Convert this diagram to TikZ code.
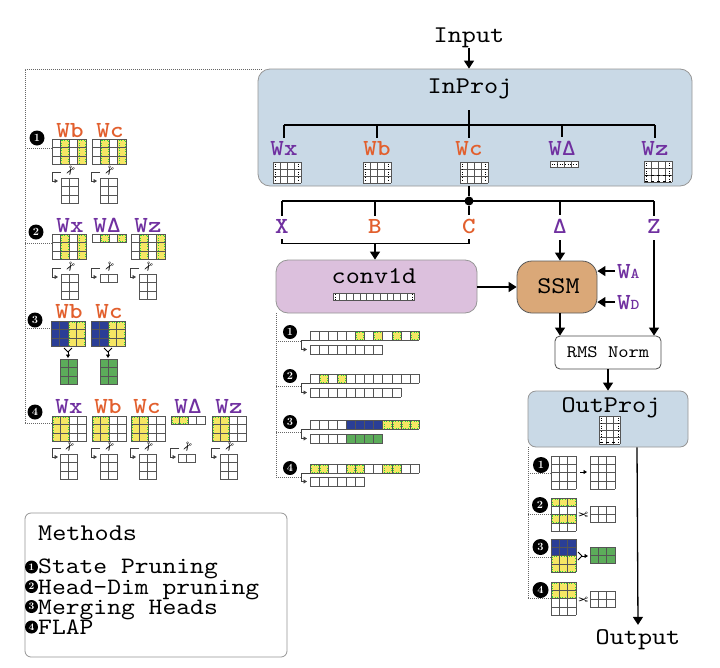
\documentclass[tikz,border=0pt]{standalone}
\usepackage{fontspec}
\newfontfamily\djv{DejaVu Sans}
\newfontfamily\cour[FakeStretch=1.12, BoldFont=lmmonolt10-bold.otf]{lmmono10-regular.otf}
\usetikzlibrary{arrows.meta}
\definecolor{purp}{RGB}{112,48,160}
\definecolor{oran}{RGB}{226,95,45}
\definecolor{ylw}{RGB}{246,230,100}
\definecolor{blu}{RGB}{42,62,150}
\definecolor{grn}{RGB}{92,172,90}
\definecolor{dotgreen}{RGB}{40,220,60}
\definecolor{projfill}{RGB}{201,217,230}
\definecolor{convfill}{RGB}{220,192,221}
\definecolor{ssmfill}{RGB}{218,168,120}
\definecolor{boxline}{RGB}{150,150,150}
\definecolor{gridc}{RGB}{85,85,85}
\newcommand{\mlfont}{\cour\fontsize{23.5}{20.2}\selectfont\lineskiplimit -30pt\relax}
\tikzset{
 gl/.style={draw=gridc, line width=0.7pt},
 gdot/.style={draw=dotgreen, line width=0.5pt, dash pattern=on 0.7pt off 1.8pt},
 arr/.style={line width=1.3pt, -{Triangle[length=8pt,width=10pt]}},
 ln/.style={line width=1.3pt},
 elbow/.style={draw=gray!50!black, line width=0.7pt, -{Triangle[length=3.5pt,width=4pt]}},
 mline/.style={draw=black, line width=0.8pt},
 dotl/.style={line width=0.8pt, draw=gray!80!black, dash pattern=on 0.8pt off 1.2pt},
 lbl/.style={font=\cour\bfseries\fontsize{23}{23}\selectfont, inner sep=0},
 ttl/.style={font=\cour\fontsize{24}{24}\selectfont, inner sep=0},
 bul/.style={circle, fill=black, text=white, inner sep=0, minimum size=15pt, font=\bfseries\fontsize{11}{11}\selectfont},
 box/.style={draw=boxline, line width=0.8pt, rounded corners=12pt},
 sci/.style={font=\djv\fontsize{12}{12}\selectfont, inner sep=0},
 mk/.style={dotted, line width=0.7pt},
}
\def\mcw{8.6}\def\mch{8.6}
\newcommand{\grd}[4]{%
  \foreach \ii in {0,...,#3}{\draw[gl] ({#1+\ii*\mcw},{#2}) -- ({#1+\ii*\mcw},{#2+(#4)*\mch});}%
  \foreach \jj in {0,...,#4}{\draw[gl] ({#1},{#2+\jj*\mch}) -- ({#1+(#3)*\mcw},{#2+\jj*\mch});}%
}
\newcommand{\blk}[7]{\fill[#7] ({#1+(#3)*\mcw},{#2+(#4)*\mch}) rectangle ({#1+(#5)*\mcw},{#2+(#6)*\mch});}
\newcommand{\yb}[6]{\blk{#1}{#2}{#3}{#4}{#5}{#6}{ylw}%
  \draw[gdot] ({#1+(#3)*\mcw+1},{#2+(#4)*\mch+1}) rectangle ({#1+(#5)*\mcw-1},{#2+(#6)*\mch-1});}
\newcommand{\elb}[3]{\draw[elbow] ({#1+9},{#2}) -- ({#1},{#2}) -- ({#1},{#3}) -- ({#1+6},{#3});}
\newcommand{\mgd}[2]{\draw[mline] ({#1-4},{#2-4}) -- (#1,#2) -- ({#1+4},{#2-4});
  \draw[mline,-{Triangle[length=3.5pt,width=4pt]}] (#1,#2) -- (#1,{#2+6});}
\newcommand{\mgr}[2]{\draw[mline] ({#1-4},{#2-4}) -- (#1,#2) -- ({#1-4},{#2+4});
  \draw[mline,-{Triangle[length=3.5pt,width=4pt]}] (#1,#2) -- ({#1+6},#2);}
\newcommand{\dmk}[3]{\draw[mk] ({#1+2.5},{#2+1.5}) -- ({#1+2.5},{#2+#3-1.5});
  \draw[mk] ({#1+25.5},{#2+1.5}) -- ({#1+25.5},{#2+#3-1.5});}
\begin{document}
\begin{tikzpicture}[x=1pt,y=-1pt]
\useasboundingbox (0,0) rectangle (720,667);
\fill[white] (0,0) rectangle (720,667);

% ---------- left dotted frame ----------
\draw[dotl] (25,423) -- (25,69) -- (262,69);
\draw[dotl] (25,148) -- (52,148);
\draw[dotl] (25,243) -- (52,243);
\draw[dotl] (25,328) -- (51,328);
\draw[dotl] (25,423) -- (52,423);

% ---------- InProj ----------
\node[ttl, anchor=base] (input) at (469,42) {Input};
\node[box, fill=projfill, minimum width=434pt, minimum height=117pt] (inproj) at (475,127.5) {};
\node[ttl, anchor=base] (inprojt) at (470,93) {InProj};
\draw[arr] (input.south) -- (input.south |- inproj.north);

\node[lbl, text=purp, anchor=base] (wx) at (284,155) {Wx};
\node[lbl, text=oran, anchor=base] (wb) at (377,155) {Wb};
\node[lbl, text=oran, anchor=base] (wc) at (469,155) {Wc};
\node[lbl, text=purp, anchor=base] (wd) at (562,155) {WΔ};
\node[lbl, text=purp, anchor=base] (wz) at (655,155) {Wz};
\coordinate (tA) at (469,110);
\coordinate (tB) at (469,125);
\draw[ln] (tA) -- (tB);
\draw[ln] (wx.north |- tB) -- (wz.north |- tB);
\foreach \n in {wx,wb,wc,wd,wz} \draw[ln] (\n.north |- tB) -- ([yshift=3pt]\n.north);

\def\mcw{7}\def\mch{7}
\fill[white] (273,162) rectangle ++(28,21); \grd{273}{162}{4}{3} \dmk{273}{162}{21}
\fill[white] (363,162) rectangle ++(28,21); \grd{363}{162}{4}{3} \dmk{363}{162}{21}
\fill[white] (460,162) rectangle ++(28,21); \grd{460}{162}{4}{3} \dmk{460}{162}{21}
\def\mch{6.5}
\fill[white] (550,161) rectangle ++(28,6.5); \grd{550}{161}{4}{1}
\draw[mk] (551.5,164.2) -- (576.5,164.2);
\def\mch{7}
\fill[white] (644,161) rectangle ++(28,21); \grd{644}{161}{4}{3} \dmk{644}{161}{21}
\draw[dashed, line width=0.7pt] (645,175) -- (671,175);
\draw[dashed, line width=0.7pt] (645,181) -- (671,181);

% ---------- splitting ----------
\node[circle, fill=black, inner sep=0, minimum size=9pt] (dot) at (469,201) {};
\draw[ln] (inproj.south -| dot) -- (dot);
\node[lbl, text=purp, anchor=base] (xl) at (282,233) {X};
\node[lbl, text=oran, anchor=base] (bl) at (375,233) {B};
\node[lbl, text=oran, anchor=base] (cl) at (469,233) {C};
\node[lbl, text=purp, anchor=base] (dl) at (560,233) {Δ};
\node[lbl, text=purp, anchor=base] (zl) at (654,233) {Z};
\draw[ln] (xl.north |- dot) -- (zl.north |- dot);
\foreach \n in {xl,bl,dl,zl} \draw[ln] (\n.north |- dot) -- ([yshift=3pt]\n.north);
\draw[ln] (dot) -- ([yshift=3pt]cl.north);
\draw[ln] ([yshift=-6pt]xl.south) -- ([yshift=-10pt]xl.south) -| ([yshift=-6pt]cl.south);

% ---------- conv1d ----------
\node[box, fill=convfill, minimum width=201pt, minimum height=53pt] (conv) at (376.5,286.5) {};
\node[ttl, anchor=base] (convt) at (374,283) {conv1d};
\draw[arr] ([yshift=-10pt]bl.south) -- (bl.south |- conv.north);
\def\mcw{6.75}\def\mch{7.5}
\fill[white] (333,293) rectangle ++(81,7.5); \grd{333}{293}{12}{1}
\draw[mk] (335,294) -- (335,299.5); \draw[mk] (412,294) -- (412,299.5);

% ---------- SSM ----------
\node[box, fill=ssmfill, draw=gray!70!black, rounded corners=15pt, minimum width=80pt, minimum height=52pt] (ssm) at (557,287) {};
\node[ttl, anchor=base] (ssmt) at (558.5,293) {SSM};
\draw[arr] ([yshift=-7pt]dl.south) -- (dl.south |- ssm.north);
\draw[arr] (conv.east |- ssm) -- (ssm.west);
\node[lbl, text=purp, anchor=base west] (wa) at (617,278) {W{\fontsize{15}{15}\selectfont A}};
\node[lbl, text=purp, anchor=base west] (wdd) at (617,309) {W{\fontsize{15}{15}\selectfont D}};
\draw[arr] ([xshift=-2pt]wa.west) -- (wa.west -| ssm.east);
\draw[arr] ([xshift=-2pt]wdd.west) -- (wdd.west -| ssm.east);

% ---------- RMS Norm ----------
\node[draw=black!70, line width=0.8pt, rounded corners=5pt, minimum width=106pt, minimum height=33pt, inner sep=0, font=\cour\fontsize{17.5}{17.5}\selectfont] (rms) at (608,352.5) {RMS Norm};
\draw[arr] ([xshift=3pt]ssm.south) -- ([xshift=3pt]ssm.south |- rms.north);
\draw[arr] ([yshift=-7pt]zl.south) -- (zl.south |- rms.north);

% ---------- OutProj ----------
\node[box, fill=projfill, rounded corners=8pt, minimum width=160pt, minimum height=56pt] (outproj) at (608,419) {};
\node[ttl, anchor=base] (outprojt) at (611,412) {OutProj};
\draw[arr] (rms.south) -- (rms.south |- outproj.north);
\def\mcw{7}\def\mch{7}
\fill[white] (599,416) rectangle ++(21,28); \grd{599}{416}{3}{4}
\draw[mk] (601,417.5) -- (601,442.5); \draw[mk] (618,417.5) -- (618,442.5);
\draw[dashed, line width=0.6pt] (600,442) -- (619,442);
\node[ttl, anchor=base] (output) at (638,644) {Output};
\draw[arr] ([xshift=29pt]outproj.south) -- ([yshift=4pt]output.north);

% ---------- left column ----------
\def\mcw{8.6}\def\mch{8.6}
% item 1
\node[bul] (lb1) at (37,138) {1};
\node[lbl, text=oran, anchor=base] (l1b) at (70,137) {Wb};
\node[lbl, text=oran, anchor=base] (l1c) at (110,137) {Wc};
\yb{52}{139}{1}{0}{2}{3} \yb{52}{139}{3}{0}{4}{3} \grd{52}{139}{4}{3}
\yb{92}{139}{1}{0}{2}{3} \yb{92}{139}{3}{0}{4}{3} \grd{92}{139}{4}{3}
\grd{61}{178}{2}{3} \grd{100}{178}{2}{3}
\elb{52}{172}{181} \elb{91}{172}{181}
\node[sci, rotate=-120] (s1a) at (69.6,171) {✂};
\node[sci, rotate=-120] (s1b) at (108.6,171) {✂};
% item 2
\node[bul] (lb2) at (36,232) {2};
\node[lbl, text=purp, anchor=base] (l2x) at (70,232) {Wx};
\node[lbl, text=purp, anchor=base] (l2d) at (107,232) {WΔ};
\node[lbl, text=purp, anchor=base] (l2z) at (148,232) {Wz};
\yb{52}{234}{1}{0}{2}{3} \yb{52}{234}{3}{0}{4}{3} \grd{52}{234}{4}{3}
\yb{92}{234}{1}{0}{2}{1} \yb{92}{234}{3}{0}{4}{1} \grd{92}{234}{4}{1}
\yb{131}{234}{1}{0}{2}{3} \yb{131}{234}{3}{0}{4}{3} \grd{131}{234}{4}{3}
\grd{61}{274}{2}{3} \grd{100}{274}{2}{1} \grd{139}{274}{2}{3}
\elb{52}{268}{277} \elb{91}{268}{277} \elb{130}{268}{277}
\node[sci, rotate=-120] (s2a) at (69.6,267) {✂};
\node[sci, rotate=-120] (s2b) at (108.6,267) {✂};
\node[sci, rotate=-120] (s2c) at (147.6,267) {✂};
% item 3
\node[bul] (lb3) at (35,320) {3};
\node[lbl, text=oran, anchor=base] (l3b) at (69,318) {Wb};
\node[lbl, text=oran, anchor=base] (l3c) at (109,318) {Wc};
\blk{51}{321}{0}{0}{2}{3}{blu} \yb{51}{321}{2}{0}{4}{3} \grd{51}{321}{4}{3}
\blk{91}{321}{0}{0}{2}{3}{blu} \yb{91}{321}{2}{0}{4}{3} \grd{91}{321}{4}{3}
\mgd{68}{352} \mgd{108}{352}
\blk{60}{359}{0}{0}{2}{3}{grn} \grd{60}{359}{2}{3}
\blk{100}{359}{0}{0}{2}{3}{grn} \grd{100}{359}{2}{3}
% item 4
\node[bul] (lb4) at (35,412) {4};
\node[lbl, text=purp, anchor=base] (l4x) at (69,413) {Wx};
\node[lbl, text=oran, anchor=base] (l4b) at (108,413) {Wb};
\node[lbl, text=oran, anchor=base] (l4c) at (147,413) {Wc};
\node[lbl, text=purp, anchor=base] (l4d) at (188,413) {WΔ};
\node[lbl, text=purp, anchor=base] (l4z) at (229,413) {Wz};
\yb{52}{416}{0}{0}{2}{3} \grd{52}{416}{4}{3}
\yb{92}{416}{0}{0}{2}{3} \grd{92}{416}{4}{3}
\yb{131}{416}{0}{0}{2}{3} \grd{131}{416}{4}{3}
\yb{171}{416}{0}{0}{2}{1} \grd{171}{416}{4}{1}
\yb{212}{416}{0}{0}{2}{3} \grd{212}{416}{4}{3}
\grd{60}{454}{2}{3} \grd{100}{454}{2}{3} \grd{139}{454}{2}{3} \grd{178}{454}{2}{1} \grd{220}{454}{2}{3}
\elb{52}{448}{457} \elb{91}{448}{457} \elb{130}{448}{457} \elb{170}{448}{457} \elb{211}{448}{457}
\node[sci, rotate=-120] (s4a) at (68.6,447) {✂};
\node[sci, rotate=-120] (s4b) at (108.6,447) {✂};
\node[sci, rotate=-120] (s4c) at (147.6,447) {✂};
\node[sci, rotate=-120] (s4d) at (186.6,447) {✂};
\node[sci, rotate=-120] (s4e) at (228.6,447) {✂};

% ---------- conv1d column ----------
\draw[dotl] (276,313) -- (276,477);
\draw[dotl] (276,341) -- (301,341);
\draw[dotl] (276,386) -- (301,386);
\draw[dotl] (276,432) -- (301,432);
\draw[dotl] (276,477) -- (301,477);
\def\mcw{9.1}\def\mch{9}
\node[bul, minimum size=14pt] (cb1) at (290,332) {1};
\node[bul, minimum size=14pt] (cb2) at (290,376) {2};
\node[bul, minimum size=14pt] (cb3) at (290,422) {3};
\node[bul, minimum size=14pt] (cb4) at (290,468) {4};
\foreach \c in {5,7,9,11} {\yb{310}{331}{\c}{0}{\c+1}{1}}
\grd{310}{331}{12}{1} \grd{310}{345}{8}{1}
\elb{301}{340}{349.5}
\foreach \c in {1,3} {\yb{310}{374}{\c}{0}{\c+1}{1}}
\grd{310}{374}{12}{1} \grd{310}{388}{10}{1}
\elb{301}{383}{392.5}
\blk{310}{420}{4}{0}{8}{1}{blu}
\foreach \c in {8,9,10,11} {\yb{310}{420}{\c}{0}{\c+1}{1}}
\grd{310}{420}{12}{1}
\blk{310}{434}{4}{0}{8}{1}{grn} \grd{310}{434}{8}{1}
\elb{301}{429}{438.5}
\foreach \c in {0,1,4,5,8,9} {\yb{310}{464}{\c}{0}{\c+1}{1}}
\grd{310}{464}{12}{1} \grd{310}{477}{6}{1}
\elb{301}{473}{481.5}

% ---------- OutProj column ----------
\draw[dotl] (528,447) -- (528,598);
\draw[dotl] (528,473) -- (551,473);
\draw[dotl] (528,514) -- (551,514);
\draw[dotl] (528,557) -- (551,557);
\draw[dotl] (528,598) -- (551,598);
\def\mcw{8.3}\def\mch{8.3}
\node[bul, minimum size=16pt] (ob1) at (541,465) {1};
\node[bul, minimum size=16pt] (ob2) at (540,505) {2};
\node[bul, minimum size=16pt] (ob3) at (540.5,547) {3};
\node[bul, minimum size=16pt] (ob4) at (540.5,590) {4};
\grd{551}{456}{3}{4} \grd{590}{456}{3}{4}
\draw[mline,-{Triangle[length=3.5pt,width=4pt]}] (580,472) -- (587,472);
\yb{551}{498}{0}{0}{3}{1} \yb{551}{498}{0}{2}{3}{3} \grd{551}{498}{3}{4}
\grd{590}{506}{3}{2}
\node[sci, rotate=180] (so2) at (583,514) {✂};
\blk{551}{539}{0}{0}{3}{2}{blu} \yb{551}{539}{0}{2}{3}{4} \grd{551}{539}{3}{4}
\blk{590}{547}{0}{0}{3}{2}{grn} \grd{590}{547}{3}{2}
\mgr{582}{556}
\yb{551}{582}{0}{0}{3}{2} \grd{551}{582}{3}{4}
\grd{590}{591}{3}{2}
\node[sci, rotate=180] (so4) at (583,599) {✂};

% ---------- Methods ----------
\node[box, rounded corners=6pt, fill=white, minimum width=262pt, minimum height=144pt] (methods) at (156,585) {};
\node[ttl, anchor=base west] (mt) at (38,540) {Methods};
\node[bul, minimum size=13pt, font=\bfseries\fontsize{10}{10}\selectfont] (mb1) at (31.5,567) {1};
\node[bul, minimum size=13pt, font=\bfseries\fontsize{10}{10}\selectfont] (mb2) at (31.5,586.5) {2};
\node[bul, minimum size=13pt, font=\bfseries\fontsize{10}{10}\selectfont] (mb3) at (31.5,606.5) {3};
\node[bul, minimum size=13pt, font=\bfseries\fontsize{10}{10}\selectfont] (mb4) at (31.5,627) {4};
\node[anchor=north west, align=left, inner sep=0, font=\mlfont] (mlist) at (38,559) {State Pruning\\Head-Dim pruning\\Merging Heads\\FLAP};
\end{tikzpicture}
\end{document}
